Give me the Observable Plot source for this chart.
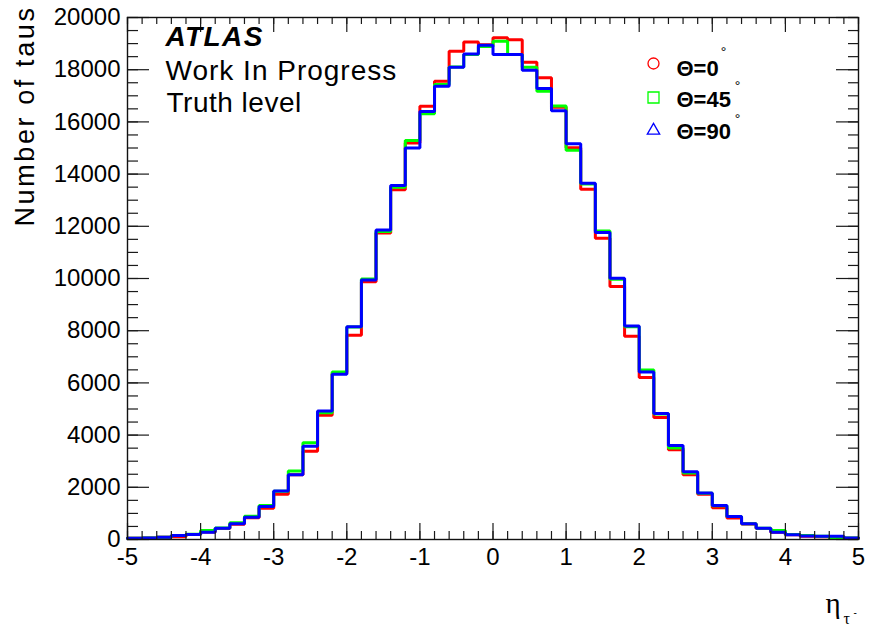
<!DOCTYPE html>
<html>
<head>
<meta charset="utf-8">
<script src="https://cdn.jsdelivr.net/npm/d3@7"></script>
<script src="https://cdn.jsdelivr.net/npm/@observablehq/plot@0.6"></script>
<style>
  html, body { margin: 0; padding: 0; background: #ffffff; }
  #chart svg { display: block; }
</style>
</head>
<body>
<div id="chart"></div>
<script>
// Pseudorapidity binning of the tau (50 bins of width 0.2)
const binEdges = [
  -5.0, -4.8, -4.6, -4.4, -4.2, -4.0, -3.8, -3.6, -3.4, -3.2,
  -3.0, -2.8, -2.6, -2.4, -2.2, -2.0, -1.8, -1.6, -1.4, -1.2,
  -1.0, -0.8, -0.6, -0.4, -0.2, 0.0, 0.2, 0.4, 0.6, 0.8,
  1.0, 1.2, 1.4, 1.6, 1.8, 2.0, 2.2, 2.4, 2.6, 2.8,
  3.0, 3.2, 3.4, 3.6, 3.8, 4.0, 4.2, 4.4, 4.6, 4.8, 5.0
];

// Number of taus per bin, Θ = 0°
const countsTheta0 = [
  50, 60, 90, 110, 190, 290, 420, 580, 830, 1200,
  1730, 2480, 3380, 4760, 6360, 7830, 9880, 11740, 13400, 15190,
  16600, 17560, 18710, 19060, 18960, 19220, 19150, 18290, 17690, 16560,
  15010, 13420, 11540, 9690, 7790, 6210, 4670, 3440, 2480, 1730,
  1220, 820, 590, 420, 280, 180, 120, 110, 90, 50
];

// Number of taus per bin, Θ = 45°
const countsTheta45 = [
  50, 60, 90, 150, 200, 345, 440, 640, 895, 1305,
  1850, 2620, 3710, 4860, 6420, 8140, 9980, 11800, 13500, 15290,
  16310, 17430, 18100, 18580, 18890, 19090, 18580, 18095, 17170, 16610,
  14910, 13620, 11820, 9970, 8150, 6490, 4810, 3510, 2550, 1770,
  1290, 880, 600, 430, 345, 190, 150, 120, 50, 60
];

// Number of taus per bin, Θ = 90°
const countsTheta90 = [
  50, 55, 90, 150, 190, 280, 435, 600, 855, 1265,
  1855, 2480, 3570, 4925, 6335, 8150, 9940, 11860, 13560, 15000,
  16400, 17370, 18095, 18600, 18940, 18580, 18580, 17980, 17275, 16430,
  15160, 13650, 11760, 10010, 8180, 6420, 4825, 3600, 2600, 1780,
  1305, 880, 600, 435, 280, 180, 130, 125, 125, 60
];

// Axis tick values
const xTickLabels = [-5, -4, -3, -2, -1, 0, 1, 2, 3, 4, 5];
const yTickLabels = [0, 2000, 4000, 6000, 8000, 10000, 12000, 14000, 16000, 18000, 20000];

const seriesNames = ["Θ=0", "Θ=45", "Θ=90"];
const seriesColors = ["#ff0000", "#00ff00", "#0000ff"];
const seriesCounts = [countsTheta0, countsTheta45, countsTheta90];

// Step outline rows: one row per lower bin edge plus the closing upper edge
function outline(counts) {
  const rows = counts.map((c, i) => ({eta: binEdges[i], n: c}));
  rows.push({eta: binEdges[binEdges.length - 1], n: counts[counts.length - 1]});
  return rows;
}

const W = 870, H = 628;
const mL = 127, mR = 12, mT = 17, mB = 89;
const fw = W - mL - mR, fh = H - mT - mB;

const xMinor = d3.range(-5, 5.0001, 0.2);
const yMinor = d3.range(0, 20001, 500);

const sans = "'Liberation Sans', Arial, Helvetica, sans-serif";
const serif = "'Liberation Serif', 'DejaVu Serif', serif";
const tickColor = "#1a1a1a";

const marks = [
  // histograms, drawn so that Θ=90 ends on top
  ...seriesCounts.map((counts, k) =>
    Plot.line(outline(counts), {
      x: "eta", y: "n", curve: "step-after",
      stroke: seriesColors[k], strokeWidth: 3, strokeLinejoin: "miter"
    })
  ),

  // inward ticks on all four sides
  Plot.tickX(xMinor, {x: d => d, insetTop: fh - 8, stroke: tickColor, strokeWidth: 1.2}),
  Plot.tickX(xTickLabels, {x: d => d, insetTop: fh - 16, stroke: tickColor, strokeWidth: 1.2}),
  Plot.tickX(xMinor, {x: d => d, insetBottom: fh - 7, stroke: tickColor, strokeWidth: 1.2}),
  Plot.tickX(xTickLabels, {x: d => d, insetBottom: fh - 15, stroke: tickColor, strokeWidth: 1.2}),
  Plot.tickY(yMinor, {y: d => d, insetRight: fw - 11, stroke: tickColor, strokeWidth: 1.2}),
  Plot.tickY(yTickLabels, {y: d => d, insetRight: fw - 22, stroke: tickColor, strokeWidth: 1.2}),
  Plot.tickY(yMinor, {y: d => d, insetLeft: fw - 10, stroke: tickColor, strokeWidth: 1.2}),
  Plot.tickY(yTickLabels, {y: d => d, insetLeft: fw - 22, stroke: tickColor, strokeWidth: 1.2}),

  Plot.frame({stroke: "#111", strokeWidth: 1.4}),

  // axis labels
  Plot.axisX({
    ticks: xTickLabels, tickSize: 0, tickPadding: 8, tickFormat: d => String(d),
    fontSize: 24, fontFamily: sans, fill: "#000", label: null
  }),
  Plot.axisY({
    ticks: yTickLabels, tickSize: 0, tickPadding: 7, tickFormat: d => String(d),
    fontSize: 24, fontFamily: sans, fill: "#000", label: null
  }),

  // y title
  Plot.text(["Number of taus"], {
    frameAnchor: "top-left", rotate: -90, textAnchor: "end", lineAnchor: "bottom",
    dx: -94, dy: -12, fontSize: 27, fontFamily: sans, fill: "#000"
  }),

  // x title: η with τ⁻ subscript
  Plot.text(["η"], {
    frameAnchor: "bottom-right", textAnchor: "start", lineAnchor: "bottom",
    dx: -33, dy: 73, fontSize: 29, fontFamily: serif, fill: "#000"
  }),
  Plot.text(["τ"], {
    frameAnchor: "bottom-right", textAnchor: "start", lineAnchor: "bottom",
    dx: -15, dy: 84, fontSize: 16, fontFamily: serif, fill: "#000"
  }),
  Plot.text(["-"], {
    frameAnchor: "bottom-right", textAnchor: "start", lineAnchor: "bottom",
    dx: -5, dy: 76, fontSize: 10, fontFamily: sans, fill: "#000"
  }),

  // annotation block
  Plot.text(["ATLAS"], {
    frameAnchor: "top-left", textAnchor: "start", lineAnchor: "bottom",
    dx: 38, dy: 28, fontSize: 28, fontWeight: "bold", fontStyle: "italic",
    fontFamily: sans, fill: "#000"
  }),
  Plot.text(["Work In Progress"], {
    frameAnchor: "top-left", textAnchor: "start", lineAnchor: "bottom",
    dx: 38, dy: 62, fontSize: 28, fontFamily: sans, fill: "#000"
  }),
  Plot.text(["Truth level"], {
    frameAnchor: "top-left", textAnchor: "start", lineAnchor: "bottom",
    dx: 39, dy: 94, fontSize: 28, fontFamily: sans, fill: "#000"
  })
];

// legend: open markers with bold labels and a raised degree sign
const legendLayout = [
  {symbol: "circle", r: 5.5, markerDy: 46, textDy: 51, degDx: 596, degDy: 39},
  {symbol: "square", r: 6.2, markerDy: 80, textDy: 82, degDx: 610, degDy: 73},
  {symbol: "triangle", r: 4.6, markerDy: 113, textDy: 114, degDx: 610, degDy: 106}
];
legendLayout.forEach((L, k) => {
  marks.push(
    Plot.dot([seriesNames[k]], {
      frameAnchor: "top-left", dx: 526, dy: L.markerDy, symbol: L.symbol, r: L.r,
      fill: "none", stroke: seriesColors[k], strokeWidth: 1.3
    }),
    Plot.text([seriesNames[k]], {
      frameAnchor: "top-left", textAnchor: "start", lineAnchor: "middle",
      dx: 549, dy: L.textDy, fontSize: 22, fontWeight: "bold", fontFamily: sans, fill: "#000"
    }),
    Plot.text(["°"], {
      frameAnchor: "top-left", textAnchor: "middle", lineAnchor: "bottom",
      dx: L.degDx, dy: L.degDy, fontSize: 14, fontFamily: sans, fill: "#000"
    })
  );
});

const chart = Plot.plot({
  width: W, height: H,
  marginLeft: mL, marginRight: mR, marginTop: mT, marginBottom: mB,
  style: {background: "#ffffff", overflow: "visible"},
  x: {domain: [-5, 5], axis: null},
  y: {domain: [0, 20000], axis: null},
  marks
});

// the title lettering is set a little wider than the face's default advance
const tracking = {"Number of taus": "2.6px", "Work In Progress": "1px", "Truth level": "0.5px", "ATLAS": "1.4px"};
d3.select(chart).selectAll("text").each(function () {
  const t = this.textContent;
  if (tracking[t]) this.setAttribute("letter-spacing", tracking[t]);
});

document.getElementById("chart").appendChild(chart);
</script>
</body>
</html>
